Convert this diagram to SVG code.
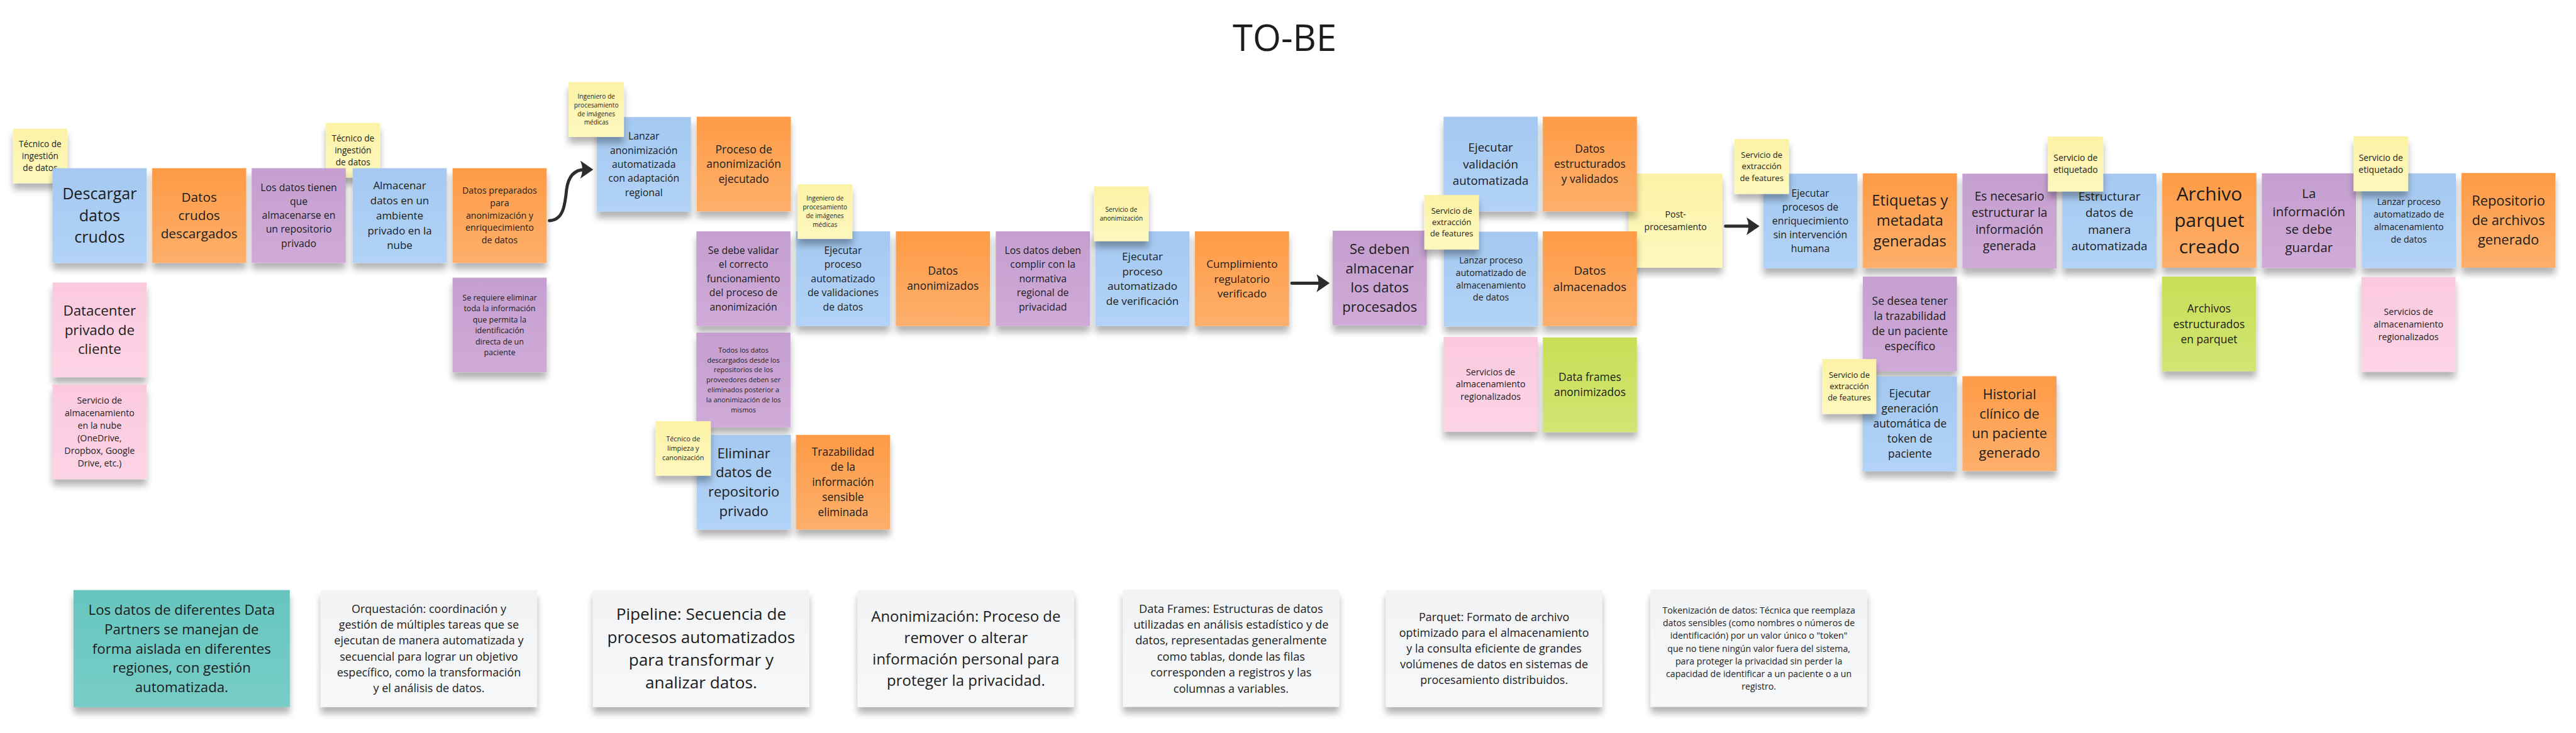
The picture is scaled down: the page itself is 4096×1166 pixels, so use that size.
<svg xmlns="http://www.w3.org/2000/svg" width="4096" height="1166" viewBox="0 0 4096 1166">
<defs>
<linearGradient id="gy" x1="0" y1="0" x2="0" y2="1"><stop offset="0" stop-color="#fcf2a6"/><stop offset="1" stop-color="#fef8be"/></linearGradient>
<linearGradient id="gb" x1="0" y1="0" x2="0" y2="1"><stop offset="0" stop-color="#a4c8f0"/><stop offset="1" stop-color="#b2d3f7"/></linearGradient>
<linearGradient id="go" x1="0" y1="0" x2="0" y2="1"><stop offset="0" stop-color="#fe9b46"/><stop offset="1" stop-color="#fdaf6b"/></linearGradient>
<linearGradient id="gp" x1="0" y1="0" x2="0" y2="1"><stop offset="0" stop-color="#c49fcf"/><stop offset="1" stop-color="#d0abd9"/></linearGradient>
<linearGradient id="gk" x1="0" y1="0" x2="0" y2="1"><stop offset="0" stop-color="#fbc9de"/><stop offset="1" stop-color="#fdd4e5"/></linearGradient>
<linearGradient id="gg" x1="0" y1="0" x2="0" y2="1"><stop offset="0" stop-color="#c8de56"/><stop offset="1" stop-color="#d2e574"/></linearGradient>
<linearGradient id="gt" x1="0" y1="0" x2="0" y2="1"><stop offset="0" stop-color="#66c5bf"/><stop offset="1" stop-color="#77cdc6"/></linearGradient>
<linearGradient id="gw" x1="0" y1="0" x2="0" y2="1"><stop offset="0" stop-color="#f2f3f5"/><stop offset="1" stop-color="#f7f8fa"/></linearGradient>
<filter id="sh" x="-20%" y="-20%" width="140%" height="150%">
<feGaussianBlur in="SourceAlpha" stdDeviation="10"/>
<feOffset dx="0" dy="18"/>
<feComponentTransfer><feFuncA type="linear" slope="0.3"/></feComponentTransfer>
<feMerge><feMergeNode/><feMergeNode in="SourceGraphic"/></feMerge>
</filter>
<marker id="ah" viewBox="0 0 40 52" refX="16" refY="26" markerWidth="40" markerHeight="52" orient="auto" markerUnits="userSpaceOnUse"><path d="M40,26 L2,0 Q14,26 2,52 Z" fill="#2d2d2d"/></marker>
<style>
.s{filter:url(#sh)}
.y{fill:url(#gy)}.b{fill:url(#gb)}.o{fill:url(#go)}.p{fill:url(#gp)}.k{fill:url(#gk)}.g{fill:url(#gg)}.tl{fill:url(#gt)}.w{fill:url(#gw)}
text{font-family:"Open Sans","DejaVu Sans",sans-serif;fill:#1c1c1c;text-anchor:middle}
.c{fill:none;stroke:#2d2d2d;stroke-width:9;stroke-linecap:round;marker-end:url(#ah)}
</style>
</defs>
<rect width="4096" height="1166" fill="#ffffff"/>
<g transform="scale(0.546)">
<text id="title" x="3741" y="148" font-size="106">TO-BE</text>

<g id="n-tecnico1"><rect class="s y" x="38" y="375" width="158" height="159"/><text x="117" y="428" font-size="25"><tspan x="117">Técnico de</tspan><tspan x="117" dy="35">ingestión</tspan><tspan x="117" dy="35">de datos</tspan></text></g>
<g id="n-descargar"><rect class="s b" x="153" y="490" width="274" height="276"/><text x="290" y="581" font-size="46"><tspan x="290">Descargar</tspan><tspan x="290" dy="63">datos</tspan><tspan x="290" dy="63">crudos</tspan></text></g>
<g id="n-crudos"><rect class="s o" x="443" y="490" width="274" height="276"/><text x="580" y="588" font-size="38"><tspan x="580">Datos</tspan><tspan x="580" dy="53">crudos</tspan><tspan x="580" dy="53">descargados</tspan></text></g>
<g id="n-tecnico2"><rect class="s y" x="949" y="358" width="158" height="160"/><text x="1028" y="412" font-size="25"><tspan x="1028">Técnico de</tspan><tspan x="1028" dy="35">ingestión</tspan><tspan x="1028" dy="35">de datos</tspan></text></g>
<g id="n-tienen"><rect class="s p" x="733" y="490" width="274" height="276"/><text x="870" y="557" font-size="29"><tspan x="870">Los datos tienen</tspan><tspan x="870" dy="40.5">que</tspan><tspan x="870" dy="40.5">almacenarse en</tspan><tspan x="870" dy="40.5">un repositorio</tspan><tspan x="870" dy="40.5">privado</tspan></text></g>
<g id="n-datacenter"><rect class="s k" x="153" y="823" width="274" height="276"/><text x="290" y="919" font-size="41"><tspan x="290">Datacenter</tspan><tspan x="290" dy="56.5">privado de</tspan><tspan x="290" dy="56.5">cliente</tspan></text></g>
<g id="n-nube"><rect class="s k" x="153" y="1120" width="274" height="276"/><text x="290" y="1176" font-size="26"><tspan x="290">Servicio de</tspan><tspan x="290" dy="36.5">almacenamiento</tspan><tspan x="290" dy="36.5">en la nube</tspan><tspan x="290" dy="36.5">(OneDrive,</tspan><tspan x="290" dy="36.5">Dropbox, Google</tspan><tspan x="290" dy="36.5">Drive, etc.)</tspan></text></g>
<g id="n-almacenar"><rect class="s b" x="1027" y="490" width="274" height="276"/><text x="1164" y="552" font-size="31"><tspan x="1164">Almacenar</tspan><tspan x="1164" dy="43.5">datos en un</tspan><tspan x="1164" dy="43.5">ambiente</tspan><tspan x="1164" dy="43.5">privado en la</tspan><tspan x="1164" dy="43.5">nube</tspan></text></g>
<g id="n-preparados"><rect class="s o" x="1318" y="490" width="274" height="276"/><text x="1455" y="565" font-size="26"><tspan x="1455">Datos preparados</tspan><tspan x="1455" dy="36">para</tspan><tspan x="1455" dy="36">anonimización y</tspan><tspan x="1455" dy="36">enriquecimiento</tspan><tspan x="1455" dy="36">de datos</tspan></text></g>
<g id="n-requiere"><rect class="s p" x="1318" y="809" width="274" height="276"/><text x="1455" y="875" font-size="23"><tspan x="1455">Se requiere eliminar</tspan><tspan x="1455" dy="32">toda la información</tspan><tspan x="1455" dy="32">que permita la</tspan><tspan x="1455" dy="32">identificación</tspan><tspan x="1455" dy="32">directa de un</tspan><tspan x="1455" dy="32">paciente</tspan></text></g>
<g id="n-lanzar"><rect class="s b" x="1738" y="341" width="274" height="276"/><text x="1875" y="407" font-size="29"><tspan x="1875">Lanzar</tspan><tspan x="1875" dy="41">anonimización</tspan><tspan x="1875" dy="41">automatizada</tspan><tspan x="1875" dy="41">con adaptación</tspan><tspan x="1875" dy="41">regional</tspan></text></g>
<g id="n-proceso"><rect class="s o" x="2029" y="340" width="274" height="276"/><text x="2166" y="446" font-size="32"><tspan x="2166">Proceso de</tspan><tspan x="2166" dy="43.5">anonimización</tspan><tspan x="2166" dy="43.5">ejecutado</tspan></text></g>
<g id="n-validar"><rect class="s p" x="2028" y="674" width="274" height="276"/><text x="2165" y="740" font-size="29"><tspan x="2165">Se debe validar</tspan><tspan x="2165" dy="41">el correcto</tspan><tspan x="2165" dy="41">funcionamiento</tspan><tspan x="2165" dy="41">del proceso de</tspan><tspan x="2165" dy="41">anonimización</tspan></text></g>
<g id="n-validaciones"><rect class="s b" x="2318" y="674" width="274" height="276"/><text x="2455" y="740" font-size="29"><tspan x="2455">Ejecutar</tspan><tspan x="2455" dy="41">proceso</tspan><tspan x="2455" dy="41">automatizado</tspan><tspan x="2455" dy="41">de validaciones</tspan><tspan x="2455" dy="41">de datos</tspan></text></g>
<g id="n-anonimizados"><rect class="s o" x="2609" y="674" width="274" height="276"/><text x="2746" y="801" font-size="32"><tspan x="2746">Datos</tspan><tspan x="2746" dy="44">anonimizados</tspan></text></g>
<g id="n-normativa"><rect class="s p" x="2900" y="674" width="274" height="276"/><text x="3037" y="740" font-size="29"><tspan x="3037">Los datos deben</tspan><tspan x="3037" dy="41">complir con la</tspan><tspan x="3037" dy="41">normativa</tspan><tspan x="3037" dy="41">regional de</tspan><tspan x="3037" dy="41">privacidad</tspan></text></g>
<g id="n-todos"><rect class="s p" x="2028" y="969" width="274" height="276"/><text x="2165" y="1027" font-size="20"><tspan x="2165">Todos los datos</tspan><tspan x="2165" dy="29">descargados desde los</tspan><tspan x="2165" dy="29">repositorios de los</tspan><tspan x="2165" dy="29">proveedores deben ser</tspan><tspan x="2165" dy="29">eliminados posterior a</tspan><tspan x="2165" dy="29">la anonimización de los</tspan><tspan x="2165" dy="29">mismos</tspan></text></g>
<g id="n-eliminar"><rect class="s b" x="2029" y="1267" width="274" height="276"/><text x="2166" y="1335" font-size="40.5"><tspan x="2166">Eliminar</tspan><tspan x="2166" dy="56">datos de</tspan><tspan x="2166" dy="56">repositorio</tspan><tspan x="2166" dy="56">privado</tspan></text></g>
<g id="n-trazabilidad"><rect class="s o" x="2318" y="1267" width="274" height="276"/><text x="2455" y="1328" font-size="32"><tspan x="2455">Trazabilidad</tspan><tspan x="2455" dy="44">de la</tspan><tspan x="2455" dy="44">información</tspan><tspan x="2455" dy="44">sensible</tspan><tspan x="2455" dy="44">eliminada</tspan></text></g>
<g id="n-verificacion"><rect class="s b" x="3190" y="674" width="274" height="276"/><text x="3327" y="758" font-size="31.5"><tspan x="3327">Ejecutar</tspan><tspan x="3327" dy="43.5">proceso</tspan><tspan x="3327" dy="43.5">automatizado</tspan><tspan x="3327" dy="43.5">de verificación</tspan></text></g>
<g id="n-cumplimiento"><rect class="s o" x="3480" y="674" width="274" height="276"/><text x="3617" y="780" font-size="31.5"><tspan x="3617">Cumplimiento</tspan><tspan x="3617" dy="43.5">regulatorio</tspan><tspan x="3617" dy="43.5">verificado</tspan></text></g>
<g id="n-sedeben"><rect class="s p" x="3881" y="672" width="274" height="276"/><text x="4018" y="739.5" font-size="40.5"><tspan x="4018">Se deben</tspan><tspan x="4018" dy="56.5">almacenar</tspan><tspan x="4018" dy="56.5">los datos</tspan><tspan x="4018" dy="56.5">procesados</tspan></text></g>
<g id="n-post"><rect class="s y" x="4743" y="506" width="273" height="274"/><text x="4879.5" y="634" font-size="26"><tspan x="4879.5">Post-</tspan><tspan x="4879.5" dy="36">procesamiento</tspan></text></g>
<g id="n-valautom"><rect class="s b" x="4204" y="340" width="274" height="276"/><text x="4341" y="442" font-size="34.5"><tspan x="4341">Ejecutar</tspan><tspan x="4341" dy="48">validación</tspan><tspan x="4341" dy="48">automatizada</tspan></text></g>
<g id="n-estructurados"><rect class="s o" x="4493" y="340" width="274" height="276"/><text x="4630" y="445" font-size="32"><tspan x="4630">Datos</tspan><tspan x="4630" dy="44">estructurados</tspan><tspan x="4630" dy="44">y validados</tspan></text></g>
<g id="n-lanzaralm"><rect class="s b" x="4205" y="675" width="274" height="276"/><text x="4342" y="768" font-size="26"><tspan x="4342">Lanzar proceso</tspan><tspan x="4342" dy="36">automatizado de</tspan><tspan x="4342" dy="36">almacenamiento</tspan><tspan x="4342" dy="36">de datos</tspan></text></g>
<g id="n-almacenados"><rect class="s o" x="4493" y="674" width="274" height="276"/><text x="4630" y="800" font-size="34.5"><tspan x="4630">Datos</tspan><tspan x="4630" dy="48">almacenados</tspan></text></g>
<g id="n-servreg1"><rect class="s k" x="4204" y="982" width="274" height="276"/><text x="4341" y="1093" font-size="26"><tspan x="4341">Servicios de</tspan><tspan x="4341" dy="36">almacenamiento</tspan><tspan x="4341" dy="36">regionalizados</tspan></text></g>
<g id="n-dataframes"><rect class="s g" x="4493" y="983" width="274" height="276"/><text x="4630" y="1110" font-size="32"><tspan x="4630">Data frames</tspan><tspan x="4630" dy="44">anonimizados</tspan></text></g>
<g id="n-enriquecimiento"><rect class="s b" x="5135" y="506" width="274" height="276"/><text x="5272" y="573" font-size="29"><tspan x="5272">Ejecutar</tspan><tspan x="5272" dy="40.5">procesos de</tspan><tspan x="5272" dy="40.5">enriquecimiento</tspan><tspan x="5272" dy="40.5">sin intervención</tspan><tspan x="5272" dy="40.5">humana</tspan></text></g>
<g id="n-etiquetas"><rect class="s o" x="5425" y="505" width="274" height="276"/><text x="5562" y="598" font-size="43.5"><tspan x="5562">Etiquetas y</tspan><tspan x="5562" dy="60">metadata</tspan><tspan x="5562" dy="60">generadas</tspan></text></g>
<g id="n-necesario"><rect class="s p" x="5715" y="506" width="274" height="276"/><text x="5852" y="583.5" font-size="35"><tspan x="5852">Es necesario</tspan><tspan x="5852" dy="48.5">estructurar la</tspan><tspan x="5852" dy="48.5">información</tspan><tspan x="5852" dy="48.5">generada</tspan></text></g>
<g id="n-estructurar"><rect class="s b" x="6006" y="506" width="274" height="276"/><text x="6143" y="583.5" font-size="34.5"><tspan x="6143">Estructurar</tspan><tspan x="6143" dy="48.5">datos de</tspan><tspan x="6143" dy="48.5">manera</tspan><tspan x="6143" dy="48.5">automatizada</tspan></text></g>
<g id="n-desea"><rect class="s p" x="5425" y="806" width="274" height="276"/><text x="5562" y="889" font-size="32"><tspan x="5562">Se desea tener</tspan><tspan x="5562" dy="44">la trazabilidad</tspan><tspan x="5562" dy="44">de un paciente</tspan><tspan x="5562" dy="44">específico</tspan></text></g>
<g id="n-token"><rect class="s b" x="5425" y="1097" width="274" height="276"/><text x="5562" y="1158" font-size="32"><tspan x="5562">Ejecutar</tspan><tspan x="5562" dy="44">generación</tspan><tspan x="5562" dy="44">automática de</tspan><tspan x="5562" dy="44">token de</tspan><tspan x="5562" dy="44">paciente</tspan></text></g>
<g id="n-historial"><rect class="s o" x="5715" y="1096" width="274" height="276"/><text x="5852" y="1163" font-size="40"><tspan x="5852">Historial</tspan><tspan x="5852" dy="56.5">clínico de</tspan><tspan x="5852" dy="56.5">un paciente</tspan><tspan x="5852" dy="56.5">generado</tspan></text></g>
<g id="n-parquet"><rect class="s o" x="6297" y="504" width="274" height="276"/><text x="6434" y="585" font-size="55"><tspan x="6434">Archivo</tspan><tspan x="6434" dy="76.5">parquet</tspan><tspan x="6434" dy="76.5">creado</tspan></text></g>
<g id="n-archivos"><rect class="s g" x="6296" y="806" width="274" height="276"/><text x="6433" y="911" font-size="32"><tspan x="6433">Archivos</tspan><tspan x="6433" dy="44.5">estructurados</tspan><tspan x="6433" dy="44.5">en parquet</tspan></text></g>
<g id="n-guardar"><rect class="s p" x="6587" y="505" width="274" height="276"/><text x="6724" y="577" font-size="37.5"><tspan x="6724">La</tspan><tspan x="6724" dy="52.5">información</tspan><tspan x="6724" dy="52.5">se debe</tspan><tspan x="6724" dy="52.5">guardar</tspan></text></g>
<g id="n-lanzaralm2"><rect class="s b" x="6878" y="505" width="274" height="276"/><text x="7015" y="597" font-size="26"><tspan x="7015">Lanzar proceso</tspan><tspan x="7015" dy="36.5">automatizado de</tspan><tspan x="7015" dy="36.5">almacenamiento</tspan><tspan x="7015" dy="36.5">de datos</tspan></text></g>
<g id="n-repositorio"><rect class="s o" x="7168" y="504" width="274" height="276"/><text x="7305" y="599.5" font-size="40"><tspan x="7305">Repositorio</tspan><tspan x="7305" dy="56.5">de archivos</tspan><tspan x="7305" dy="56.5">generado</tspan></text></g>
<g id="n-servreg2"><rect class="s k" x="6877" y="807" width="274" height="276"/><text x="7014" y="917.6" font-size="26"><tspan x="7014">Servicios de</tspan><tspan x="7014" dy="36.5">almacenamiento</tspan><tspan x="7014" dy="36.5">regionalizados</tspan></text></g>

<g id="n-ingeniero1"><rect class="s y" x="1656" y="239" width="161" height="160"/><text x="1736.5" y="287" font-size="18.5"><tspan x="1736.5">Ingeniero de</tspan><tspan x="1736.5" dy="25.5">procesamiento</tspan><tspan x="1736.5" dy="25.5">de imágenes</tspan><tspan x="1736.5" dy="25.5">médicas</tspan></text></g>
<g id="n-ingeniero2"><rect class="s y" x="2323" y="537" width="159" height="159"/><text x="2402.5" y="585" font-size="18.5"><tspan x="2402.5">Ingeniero de</tspan><tspan x="2402.5" dy="25.5">procesamiento</tspan><tspan x="2402.5" dy="25.5">de imágenes</tspan><tspan x="2402.5" dy="25.5">médicas</tspan></text></g>
<g id="n-limpieza"><rect class="s y" x="1909" y="1227" width="161" height="159"/><text x="1989.5" y="1285.5" font-size="20"><tspan x="1989.5">Técnico de</tspan><tspan x="1989.5" dy="28">limpieza y</tspan><tspan x="1989.5" dy="28">canonización</tspan></text></g>
<g id="n-servanon"><rect class="s y" x="3186" y="543" width="159" height="160"/><text x="3265.5" y="617" font-size="18.5"><tspan x="3265.5">Servicio de</tspan><tspan x="3265.5" dy="25.5">anonimización</tspan></text></g>
<g id="n-extraccion1"><rect class="s y" x="4148" y="568" width="159" height="159"/><text x="4227.5" y="623" font-size="23.7"><tspan x="4227.5">Servicio de</tspan><tspan x="4227.5" dy="33">extracción</tspan><tspan x="4227.5" dy="33">de features</tspan></text></g>
<g id="n-extraccion2"><rect class="s y" x="5051" y="405" width="159" height="160"/><text x="5130.5" y="460" font-size="24"><tspan x="5130.5">Servicio de</tspan><tspan x="5130.5" dy="33.5">extracción</tspan><tspan x="5130.5" dy="33.5">de features</tspan></text></g>
<g id="n-etiquetado1"><rect class="s y" x="5964" y="398" width="161" height="160"/><text x="6044.5" y="469.5" font-size="25.5"><tspan x="6044.5">Servicio de</tspan><tspan x="6044.5" dy="35">etiquetado</tspan></text></g>
<g id="n-extraccion3"><rect class="s y" x="5307" y="1046" width="157" height="160"/><text x="5385.5" y="1101" font-size="23.7"><tspan x="5385.5">Servicio de</tspan><tspan x="5385.5" dy="33">extracción</tspan><tspan x="5385.5" dy="33">de features</tspan></text></g>
<g id="n-etiquetado2"><rect class="s y" x="6854" y="397" width="159" height="160"/><text x="6933.5" y="468.5" font-size="25.5"><tspan x="6933.5">Servicio de</tspan><tspan x="6933.5" dy="35">etiquetado</tspan></text></g>

<g id="n-leg-partners"><rect class="s tl" x="214" y="1719" width="630" height="341"/><text x="529" y="1792" font-size="40.7"><tspan x="529">Los datos de diferentes Data</tspan><tspan x="529" dy="56">Partners se manejan de</tspan><tspan x="529" dy="56">forma aislada en diferentes</tspan><tspan x="529" dy="56">regiones, con gestión</tspan><tspan x="529" dy="56">automatizada.</tspan></text></g>
<g id="n-leg-orquestacion"><rect class="s w" x="934" y="1719" width="630" height="341"/><text x="1249" y="1786" font-size="33"><tspan x="1249">Orquestación: coordinación y</tspan><tspan x="1249" dy="46">gestión de múltiples tareas que se</tspan><tspan x="1249" dy="46">ejecutan de manera automatizada y</tspan><tspan x="1249" dy="46">secuencial para lograr un objetivo</tspan><tspan x="1249" dy="46">específico, como la transformación</tspan><tspan x="1249" dy="46">y el análisis de datos.</tspan></text></g>
<g id="n-leg-pipeline"><rect class="s w" x="1727" y="1719" width="630" height="341"/><text x="2042" y="1806.5" font-size="48"><tspan x="2042">Pipeline: Secuencia de</tspan><tspan x="2042" dy="66.5">procesos automatizados</tspan><tspan x="2042" dy="66.5">para transformar y</tspan><tspan x="2042" dy="66.5">analizar datos.</tspan></text></g>
<g id="n-leg-anonimizacion"><rect class="s w" x="2498" y="1719" width="630" height="341"/><text x="2813" y="1812" font-size="44"><tspan x="2813">Anonimización: Proceso de</tspan><tspan x="2813" dy="62">remover o alterar</tspan><tspan x="2813" dy="62">información personal para</tspan><tspan x="2813" dy="62">proteger la privacidad.</tspan></text></g>
<g id="n-leg-dataframes"><rect class="s w" x="3270" y="1718" width="630" height="341"/><text x="3585" y="1785" font-size="33.5"><tspan x="3585">Data Frames: Estructuras de datos</tspan><tspan x="3585" dy="46.5">utilizadas en análisis estadístico y de</tspan><tspan x="3585" dy="46.5">datos, representadas generalmente</tspan><tspan x="3585" dy="46.5">como tablas, donde las filas</tspan><tspan x="3585" dy="46.5">corresponden a registros y las</tspan><tspan x="3585" dy="46.5">columnas a variables.</tspan></text></g>
<g id="n-leg-parquet"><rect class="s w" x="4036" y="1719" width="630" height="341"/><text x="4351" y="1809" font-size="33"><tspan x="4351">Parquet: Formato de archivo</tspan><tspan x="4351" dy="46">optimizado para el almacenamiento</tspan><tspan x="4351" dy="46">y la consulta eficiente de grandes</tspan><tspan x="4351" dy="46">volúmenes de datos en sistemas de</tspan><tspan x="4351" dy="46">procesamiento distribuidos.</tspan></text></g>
<g id="n-leg-tokenizacion"><rect class="s w" x="4807" y="1718" width="630" height="341"/><text x="5122" y="1787.6" font-size="26"><tspan x="5122">Tokenización de datos: Técnica que reemplaza</tspan><tspan x="5122" dy="37">datos sensibles (como nombres o números de</tspan><tspan x="5122" dy="37">identificación) por un valor único o "token"</tspan><tspan x="5122" dy="37">que no tiene ningún valor fuera del sistema,</tspan><tspan x="5122" dy="37">para proteger la privacidad sin perder la</tspan><tspan x="5122" dy="37">capacidad de identificar a un paciente o a un</tspan><tspan x="5122" dy="37">registro.</tspan></text></g>

<g id="connectors">
<path class="c" d="M1600,643 C1640,641 1645,600 1650,552 C1656,505 1680,494 1704,494"/>
<path class="c" d="M3762,825 L3848,825"/>
<path class="c" d="M5025,659 L5100,659"/>
</g>
</g>
</svg>
